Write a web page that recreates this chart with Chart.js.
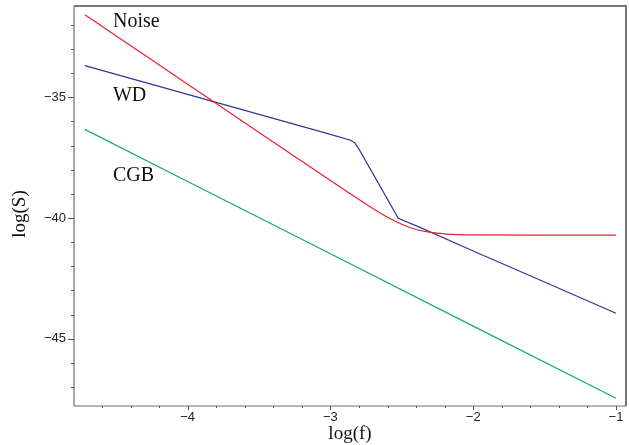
<!DOCTYPE html>
<html>
<head>
<meta charset="utf-8">
<script src="https://cdn.jsdelivr.net/npm/chart.js@4/dist/chart.umd.min.js"></script>
<style>
html,body{margin:0;padding:0;background:#fff;}
canvas{display:block;}
</style>
</head>
<body>
<canvas id="c" width="629" height="445"></canvas>
<script>
// Data
const noiseX = [-4.72, -4.5, -4.0, -3.5, -3.0, -2.8, -2.7, -2.6, -2.5, -2.4, -2.3, -2.2, -2.1, -2.0, -1.5, -1.0];
const noiseY = [-31.58, -32.46, -34.46, -36.46, -38.45, -39.24, -39.62, -39.97, -40.26, -40.48, -40.60, -40.66, -40.69, -40.70, -40.71, -40.71];
const wdX = [-4.72, -4.0, -3.5, -3.0, -2.86, -2.83, -2.80, -2.525, -2.373, -2.0, -1.533, -1.0];
const wdY = [-33.69, -34.88, -35.71, -36.54, -36.78, -36.88, -37.15, -40.01, -40.39, -41.37, -42.57, -43.95];
const cgbX = [-4.72, -4.0, -3.0, -2.0, -1.0];
const cgbY = [-36.33, -38.49, -41.48, -44.48, -47.47];
const seriesNames = ['Noise', 'WD', 'CGB'];
const xTicks = [-4.6, -4.4, -4.2, -4.0, -3.8, -3.6, -3.4, -3.2, -3.0, -2.8, -2.6, -2.4, -2.2, -2.0, -1.8, -1.6, -1.4, -1.2, -1.0];
const xLabelTicks = [-4, -3, -2, -1];
const yTicks = [-47, -46, -45, -44, -43, -42, -41, -40, -39, -38, -37, -36, -35, -34, -33, -32];
const yLabelTicks = [-45, -40, -35];
// label anchor positions (data coords, text baseline) for the series names
const labelX = [-4.523, -4.523, -4.523];
const labelY = [-32.10, -35.14, -38.47];

function pts(xs, ys){ return xs.map((x,i)=>({x:x, y:ys[i]})); }
const fmt = v => (v < 0 ? '\u2212' + Math.abs(v) : String(v));

const deco = {
  id: 'deco',
  afterDraw(chart){
    const ctx = chart.ctx, a = chart.chartArea;
    const xs = chart.scales.x, ys = chart.scales.y;
    ctx.save();
    // frame
    ctx.strokeStyle = '#6e6e6e';
    ctx.lineWidth = 1.2;
    ctx.beginPath();
    ctx.moveTo(a.left, a.top); ctx.lineTo(a.left, a.bottom); ctx.lineTo(a.right, a.bottom);
    ctx.stroke();
    ctx.lineWidth = 2;
    ctx.strokeStyle = '#777';
    ctx.beginPath();
    ctx.moveTo(a.left, a.top); ctx.lineTo(a.right, a.top); ctx.lineTo(a.right, a.bottom);
    ctx.stroke();
    // ticks
    ctx.lineWidth = 1;
    ctx.strokeStyle = '#555';
    ctx.beginPath();
    xTicks.forEach(v => {
      const px = Math.round(xs.getPixelForValue(v)) + 0.5;
      const len = xLabelTicks.includes(Math.round(v*10)/10) ? 4 : 2;
      ctx.moveTo(px, a.bottom); ctx.lineTo(px, a.bottom + len);
    });
    yTicks.forEach(v => {
      const py = Math.round(ys.getPixelForValue(v)) + 0.5;
      const len = yLabelTicks.includes(v) ? 6 : 3;
      ctx.moveTo(a.left, py); ctx.lineTo(a.left - len, py);
    });
    ctx.stroke();
    // tick labels
    ctx.fillStyle = '#222';
    ctx.font = '13px "Liberation Sans", Arial, sans-serif';
    ctx.textAlign = 'center'; ctx.textBaseline = 'middle';
    xLabelTicks.forEach(v => {
      ctx.fillText(fmt(v), xs.getPixelForValue(v), a.bottom + 11);
    });
    ctx.textAlign = 'right';
    yLabelTicks.forEach(v => {
      ctx.fillText(fmt(v), a.left - 8, ys.getPixelForValue(v));
    });
    // axis titles
    ctx.fillStyle = '#111';
    ctx.font = '19px "Liberation Serif", "Times New Roman", serif';
    ctx.textAlign = 'center';
    ctx.fillText('log(f)', (a.left + a.right) / 2, 434);
    ctx.save();
    ctx.translate(20, (a.top + a.bottom) / 2 + 8);
    ctx.rotate(-Math.PI / 2);
    ctx.fillText('log(S)', 0, 0);
    ctx.restore();
    // series labels
    ctx.font = '20px "Liberation Serif", "Times New Roman", serif';
    ctx.textAlign = 'left';
    ctx.textBaseline = 'alphabetic';
    seriesNames.forEach((n, i) => {
      ctx.fillText(n, xs.getPixelForValue(labelX[i]), ys.getPixelForValue(labelY[i]));
    });
    ctx.restore();
  }
};

new Chart(document.getElementById('c'), {
  type: 'scatter',
  data: {
    datasets: [
      { label: seriesNames[0], data: pts(noiseX, noiseY), borderColor: '#e8202a', showLine: true, tension: 0.3, cubicInterpolationMode: 'monotone' },
      { label: seriesNames[1], data: pts(wdX, wdY), borderColor: '#34349a', showLine: true, tension: 0 },
      { label: seriesNames[2], data: pts(cgbX, cgbY), borderColor: '#12b05a', showLine: true, tension: 0 }
    ].map(d => Object.assign(d, { borderWidth: 1.2, pointRadius: 0, pointHoverRadius: 0, fill: false }))
  },
  options: {
    responsive: false,
    animation: false,
    events: [],
    layout: { padding: { top: 6, right: 3, left: 0, bottom: 0 } },
    plugins: { legend: { display: false }, tooltip: { enabled: false } },
    scales: {
      x: {
        type: 'linear', min: -4.796, max: -0.93,
        grid: { display: false }, border: { display: false },
        ticks: { display: false },
        afterFit(s){ s.height = 39; }
      },
      y: {
        type: 'linear', min: -47.79, max: -31.22,
        grid: { display: false }, border: { display: false },
        ticks: { display: false },
        afterFit(s){ s.width = 74; }
      }
    }
  },
  plugins: [deco]
});
</script>
</body>
</html>
